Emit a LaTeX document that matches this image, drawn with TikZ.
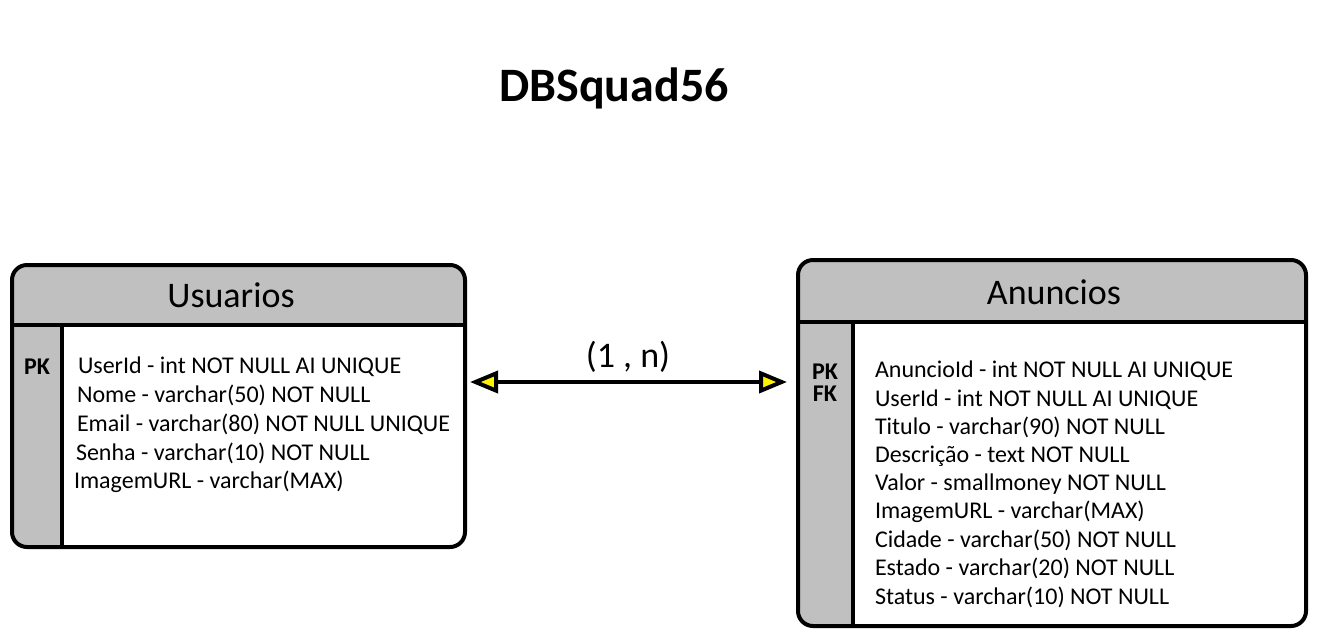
\documentclass[tikz,border=0pt]{standalone}
\usepackage{fontspec}
\setmainfont{Carlito}
\usetikzlibrary{arrows.meta,fit}
\definecolor{cinza}{RGB}{192,192,192}

\begin{document}
\begin{tikzpicture}[x=0.5pt, y=-0.5pt, line width=2pt,
  tabela/.style={draw, rounded corners=7.5pt, inner sep=0pt},
  campo/.style={anchor=west, inner sep=0pt, font=\fontsize{12}{14}\selectfont},
  chave/.style={inner sep=0pt, font=\bfseries\fontsize{12}{14}\selectfont},
  titulo/.style={font=\fontsize{18}{20}\selectfont},
  ponta/.tip={Triangle[length=14pt, width=11pt, fill=yellow]}]

\useasboundingbox (0,0) rectangle (1321,638);

\node [font=\bfseries\fontsize{24}{28}\selectfont] (db) at (614,88) {DBSquad56};

% tabela Usuarios
\begin{scope}
  \clip [rounded corners=7.5pt] (12,265) rectangle (465,547);
  \fill [cinza] (12,265) rectangle (465,325);
  \fill [cinza] (12,325) rectangle (62,547);
\end{scope}
\coordinate (u-nw) at (12,265);
\coordinate (u-se) at (465,547);
\node [tabela, fit=(u-nw)(u-se)] (usuarios) {};
\draw (12,325) -- (465,325);
\draw (62,325) -- (62,547);
\node [titulo] (usuarios-t) at (231,295) {Usuarios};
\node [chave] (usuarios-pk) at (37,367) {PK};

\foreach \x/\t [count=\i] in {76/{UserId - int NOT NULL AI UNIQUE},
    75/{Nome - varchar(50) NOT NULL}, 75/{Email - varchar(80) NOT NULL UNIQUE},
    74/{Senha - varchar(10) NOT NULL}, 72/{ImagemURL - varchar(MAX)}}
  \node [campo] (usuarios-\i) at (\x,338.25+\i*28.75) {\t};

% tabela Anuncios
\begin{scope}
  \clip [rounded corners=7.5pt] (798,260) rectangle (1306,626);
  \fill [cinza] (798,260) rectangle (1306,322);
  \fill [cinza] (798,322) rectangle (853,626);
\end{scope}
\coordinate (a-nw) at (798,260);
\coordinate (a-se) at (1306,626);
\node [tabela, fit=(a-nw)(a-se)] (anuncios) {};
\draw (798,322) -- (1306,322);
\draw (853,322) -- (853,626);
\node [titulo] (anuncios-t) at (1054,292) {Anuncios};
\node [chave] (anuncios-pk) at (825,372) {PK};
\node [chave] (anuncios-fk) at (825,394) {FK};

\foreach \t [count=\i] in {{AnuncioId - int NOT NULL AI UNIQUE},
    {UserId - int NOT NULL AI UNIQUE}, {Titulo - varchar(90) NOT NULL},
    {Descrição - text NOT NULL}, {Valor - smallmoney NOT NULL},
    {ImagemURL - varchar(MAX)}, {Cidade - varchar(50) NOT NULL},
    {Estado - varchar(20) NOT NULL}, {Status - varchar(10) NOT NULL}}
  \node [campo] (anuncios-\i) at (873,342.75+\i*28.25) {\t};

% relacionamento
\coordinate (rel-a) at (470,382);
\coordinate (rel-b) at (787,382);
\draw [ponta-ponta, line join=round] (rel-a) -- (rel-b);
\node [titulo] (card) at (628,357) {(1 , n)};

\end{tikzpicture}
\end{document}
